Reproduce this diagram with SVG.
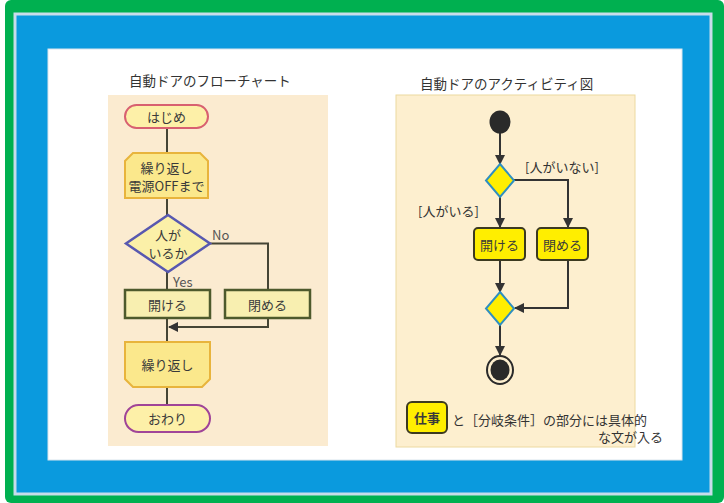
<svg xmlns="http://www.w3.org/2000/svg" width="724" height="503" viewBox="0 0 724 503">
<defs>
<style>
text{font-family:"Noto Sans CJK JP","Noto Sans",sans-serif;}
.t{font-size:13px;fill:#3a3a3a;text-anchor:middle;dominant-baseline:central;}
.ti{font-size:13px;fill:#333;}
.fl{fill:none;stroke:#454535;stroke-width:2;}
.al{fill:none;stroke:#333;stroke-width:2;}
.yb{fill:#ffee00;stroke:#3c3a20;stroke-width:2;}
.dm{fill:#ffee00;stroke:#2e8fc0;stroke-width:2;}
</style>
<marker id="ah" viewBox="0 0 10 10" refX="9" refY="5" markerWidth="5" markerHeight="5" orient="auto"><path d="M0,0L10,5L0,10z" fill="#333"/></marker>
</defs>
<rect x="0" y="0" width="724" height="503" fill="#ffffff"/>
<rect x="5" y="0" width="719" height="503" rx="6" fill="#00b050"/>
<rect x="15" y="14" width="696" height="480" fill="#0a9ade" stroke="#c8dcea" stroke-width="3"/>
<rect x="48" y="49" width="634" height="411" fill="#ffffff" stroke="#d8e4ec" stroke-width="1"/>

<!-- left panel -->
<text x="129" y="80" font-size="13.5" fill="#333" dominant-baseline="central">自動ドアのフローチャート</text>
<rect x="108" y="95" width="220" height="351" fill="#fbebd0"/>

<g id="connectors-flow">
<path class="fl" d="M167,128V153"/>
<path class="fl" d="M167,198V215"/>
<path class="fl" d="M167,272V290"/>
<path class="fl" d="M210,243.5H268V290"/>
<path class="fl" d="M167,318V342"/>
<path class="fl" d="M268,318V327H169" marker-end="url(#ah)"/>
<path class="fl" d="M167,387V405"/>
</g>
<g id="n-start"><rect x="125" y="105" width="83" height="23" rx="11.5" fill="#fdf0a8" stroke="#d86070" stroke-width="2"/><text class="t" x="166.5" y="116.5">はじめ</text></g>
<g id="n-loop1"><path d="M133,153H200L208,161V198H125V161Z" fill="#fbe88c" stroke="#e8b43c" stroke-width="2"/><text class="t" x="166.5" y="167">繰り返し</text><text class="t" x="166.5" y="185" font-size="11.5">電源OFFまで</text></g>
<g id="n-cond"><path d="M168,215L210,243.5L168,272L126,243.5Z" fill="#fbf0a8" stroke="#5858b0" stroke-width="2.5"/><text class="t" x="168" y="234" font-size="12">人が</text><text class="t" x="168" y="252" font-size="12">いるか</text></g>
<text x="212" y="234" font-size="13" fill="#555" dominant-baseline="central">No</text>
<text x="173" y="281" font-size="13" fill="#555" dominant-baseline="central">Yes</text>
<g id="n-open"><rect x="125" y="290" width="85" height="28" fill="#f8efb0" stroke="#4e5a2c" stroke-width="2.5"/><text class="t" x="167.5" y="304">開ける</text></g>
<g id="n-close"><rect x="225" y="290" width="85" height="28" fill="#f8efb0" stroke="#4e5a2c" stroke-width="2.5"/><text class="t" x="267.5" y="304">閉める</text></g>
<g id="n-loop2"><path d="M125,342H210V379L202,387H133L125,379Z" fill="#fbe88c" stroke="#e8b43c" stroke-width="2"/><text class="t" x="167.5" y="364.5">繰り返し</text></g>
<g id="n-end"><rect x="125" y="405" width="85" height="27" rx="13.5" fill="#fdf0a8" stroke="#a04498" stroke-width="2"/><text class="t" x="167.5" y="418.5">おわり</text></g>

<!-- right panel -->
<text x="420" y="83" font-size="13.5" fill="#333" dominant-baseline="central">自動ドアのアクティビティ図</text>
<rect x="396" y="95" width="239" height="352" fill="#fdefcf" stroke="#ecd9a0" stroke-width="1"/>

<g id="connectors-act">
<path class="al" d="M500,133V164" marker-end="url(#ah)"/>
<path class="al" d="M500,197V227" marker-end="url(#ah)"/>
<path class="al" d="M514,180H568V227" marker-end="url(#ah)"/>
<path class="al" d="M500,261V292" marker-end="url(#ah)"/>
<path class="al" d="M568,261V308H515" marker-end="url(#ah)"/>
<path class="al" d="M500,325V355" marker-end="url(#ah)"/>
</g>
<g id="a-start"><ellipse cx="500" cy="122" rx="10.5" ry="11.5" fill="#2a2a2a"/></g>
<g id="a-dec"><path d="M500,164L514,180.5L500,197L486,180.5Z" class="dm"/></g>
<text class="ti" x="525" y="166" dominant-baseline="central">[人がいない]</text>
<text class="ti" x="418" y="210" dominant-baseline="central">[人がいる]</text>
<g id="a-open"><rect x="474" y="228" width="51" height="32" rx="4" class="yb"/><text class="t" x="499.5" y="244" fill="#333">開ける</text></g>
<g id="a-close"><rect x="537" y="228" width="51" height="32" rx="4" class="yb"/><text class="t" x="562.5" y="244" fill="#333">閉める</text></g>
<g id="a-merge"><path d="M500,292L514,308.5L500,325L486,308.5Z" class="dm"/></g>
<g id="a-end"><ellipse cx="500" cy="370" rx="13" ry="14" fill="#fdefcf" stroke="#2a2a2a" stroke-width="2"/><ellipse cx="500" cy="370" rx="9.5" ry="10.5" fill="#2a2a2a"/></g>
<g id="legend"><rect x="407" y="402" width="40" height="31" rx="5" class="yb"/><text class="t" x="427" y="417.5" font-weight="bold" fill="#333">仕事</text>
<text class="ti" x="452" y="419" dominant-baseline="central">と［分岐条件］の部分には具体的</text>
<text class="ti" x="663" y="436" text-anchor="end" dominant-baseline="central">な文が入る</text></g>
</svg>
